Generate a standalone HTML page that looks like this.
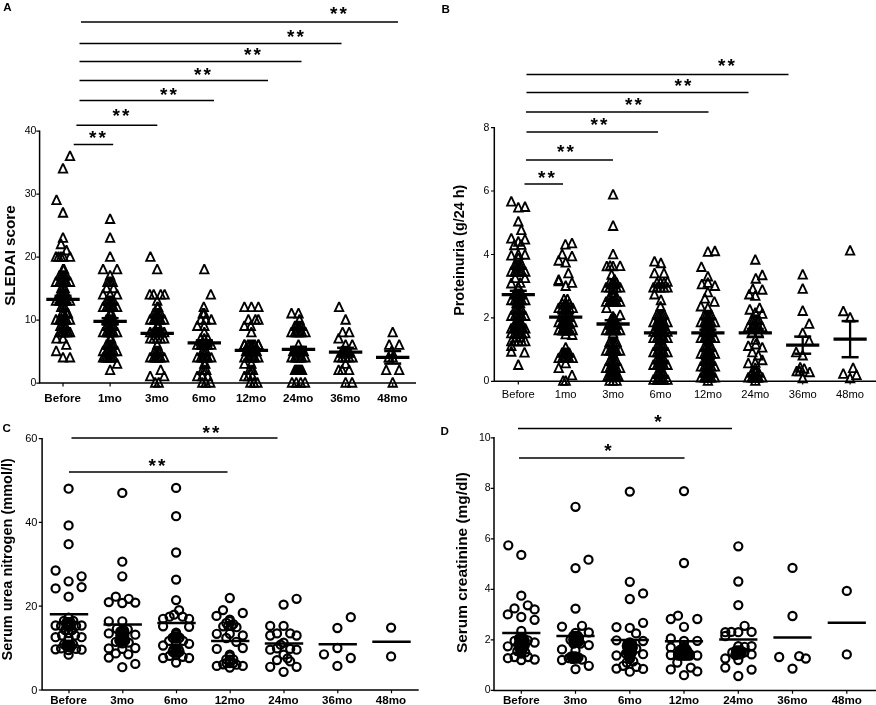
<!DOCTYPE html>
<html lang="en"><head><meta charset="utf-8"><title>Figure</title>
<style>html,body{margin:0;padding:0;background:#fff}svg{display:block}</style></head>
<body>
<svg width="876" height="705" viewBox="0 0 876 705">
<rect width="876" height="705" fill="#fff"/>
<g fill="none" stroke="#000" stroke-width="1.5">
<path d="M39.6 130.5V383.1H416"/>
<path d="M36.3 383.1H39.6M36.3 320.1H39.6M36.3 257.1H39.6M36.3 194.1H39.6M36.3 131.1H39.6M63.0 383.1v3.3M110.1 383.1v3.3M157.2 383.1v3.3M204.3 383.1v3.3M251.4 383.1v3.3M298.5 383.1v3.3M345.6 383.1v3.3M392.7 383.1v3.3" stroke-width="1.2"/>
<path d="M494.3 126.9V381.3H876"/>
<path d="M491.0 381.3H494.3M491.0 317.9H494.3M491.0 254.5H494.3M491.0 191.0H494.3M491.0 127.6H494.3M518.3 381.3v3.3M565.7 381.3v3.3M613.1 381.3v3.3M660.5 381.3v3.3M707.9 381.3v3.3M755.3 381.3v3.3M802.7 381.3v3.3M850.1 381.3v3.3" stroke-width="1.2"/>
<path d="M42.1 437.9V690.0H418.7"/>
<path d="M38.8 690.0H42.1M38.8 606.2H42.1M38.8 522.4H42.1M38.8 438.6H42.1M69.0 690.0v3.3M122.8 690.0v3.3M176.5 690.0v3.3M230.2 690.0v3.3M284.0 690.0v3.3M337.8 690.0v3.3M391.5 690.0v3.3" stroke-width="1.2"/>
<path d="M494.0 437.1V690.4H876"/>
<path d="M490.7 690.4H494.0M490.7 639.9H494.0M490.7 589.4H494.0M490.7 538.9H494.0M490.7 488.4H494.0M490.7 437.9H494.0M521.3 690.4v3.3M575.5 690.4v3.3M629.8 690.4v3.3M684.0 690.4v3.3M738.3 690.4v3.3M792.5 690.4v3.3M846.8 690.4v3.3" stroke-width="1.2"/>
</g>
<g fill="none" stroke="#000" stroke-width="1.5">
<path d="M81 22H398"/>
<path d="M79.5 43.5H341.5"/>
<path d="M79.5 61.5H301.5"/>
<path d="M79.5 80.5H268"/>
<path d="M79.5 100.5H214"/>
<path d="M76.4 125.3H157.3"/>
<path d="M73.7 144.5H113.2"/>
<path d="M526.5 74.5H788.5"/>
<path d="M526.5 92.5H748.5"/>
<path d="M526 112H708.5"/>
<path d="M526.5 132H658"/>
<path d="M526 160H613"/>
<path d="M524.5 184H563"/>
<path d="M71.5 438H277.5"/>
<path d="M69 472H227.5"/>
<path d="M518 428.5H732"/>
<path d="M519 458H684.5"/>
</g>
<g fill="none" stroke="#000" stroke-width="1.85" stroke-linejoin="miter" stroke-miterlimit="2.1">
<path d="M70.00 151.08L74.20 160.08H65.80Z"/>
<path d="M63.00 163.67L67.20 172.67H58.80Z"/>
<path d="M56.50 195.15L60.70 204.15H52.30Z"/>
<path d="M63.00 207.74L67.20 216.74H58.80Z"/>
<path d="M63.00 232.92L67.20 241.92H58.80Z"/>
<path d="M61.00 239.21L65.20 248.21H56.80Z"/>
<path d="M66.50 245.51L70.70 254.51H62.30Z"/>
<path d="M56.00 251.80L60.20 260.80H51.80Z"/>
<path d="M58.50 251.80L62.70 260.80H54.30Z"/>
<path d="M61.00 251.80L65.20 260.80H56.80Z"/>
<path d="M63.50 251.80L67.70 260.80H59.30Z"/>
<path d="M70.00 251.80L74.20 260.80H65.80Z"/>
<path d="M63.00 264.39L67.20 273.39H58.80Z"/>
<path d="M64.00 264.39L68.20 273.39H59.80Z"/>
<path d="M59.50 270.69L63.70 279.69H55.30Z"/>
<path d="M61.25 270.69L65.45 279.69H57.05Z"/>
<path d="M63.00 270.69L67.20 279.69H58.80Z"/>
<path d="M64.75 270.69L68.95 279.69H60.55Z"/>
<path d="M66.50 270.69L70.70 279.69H62.30Z"/>
<path d="M56.00 276.98L60.20 285.98H51.80Z"/>
<path d="M59.50 276.98L63.70 285.98H55.30Z"/>
<path d="M61.25 276.98L65.45 285.98H57.05Z"/>
<path d="M63.00 276.98L67.20 285.98H58.80Z"/>
<path d="M64.75 276.98L68.95 285.98H60.55Z"/>
<path d="M66.50 276.98L70.70 285.98H62.30Z"/>
<path d="M70.00 276.98L74.20 285.98H65.80Z"/>
<path d="M61.25 283.27L65.45 292.27H57.05Z"/>
<path d="M63.00 283.27L67.20 292.27H58.80Z"/>
<path d="M64.75 283.27L68.95 292.27H60.55Z"/>
<path d="M59.50 289.57L63.70 298.57H55.30Z"/>
<path d="M61.25 289.57L65.45 298.57H57.05Z"/>
<path d="M63.00 289.57L67.20 298.57H58.80Z"/>
<path d="M64.75 289.57L68.95 298.57H60.55Z"/>
<path d="M66.50 289.57L70.70 298.57H62.30Z"/>
<path d="M56.00 295.87L60.20 304.87H51.80Z"/>
<path d="M59.50 295.87L63.70 304.87H55.30Z"/>
<path d="M61.25 295.87L65.45 304.87H57.05Z"/>
<path d="M63.00 295.87L67.20 304.87H58.80Z"/>
<path d="M64.75 295.87L68.95 304.87H60.55Z"/>
<path d="M66.50 295.87L70.70 304.87H62.30Z"/>
<path d="M70.00 295.87L74.20 304.87H65.80Z"/>
<path d="M61.25 302.16L65.45 311.16H57.05Z"/>
<path d="M63.00 302.16L67.20 311.16H58.80Z"/>
<path d="M64.75 302.16L68.95 311.16H60.55Z"/>
<path d="M62.00 308.45L66.20 317.45H57.80Z"/>
<path d="M64.00 308.45L68.20 317.45H59.80Z"/>
<path d="M66.50 308.45L70.70 317.45H62.30Z"/>
<path d="M68.00 308.45L72.20 317.45H63.80Z"/>
<path d="M56.00 314.75L60.20 323.75H51.80Z"/>
<path d="M59.50 314.75L63.70 323.75H55.30Z"/>
<path d="M61.25 314.75L65.45 323.75H57.05Z"/>
<path d="M63.00 314.75L67.20 323.75H58.80Z"/>
<path d="M64.75 314.75L68.95 323.75H60.55Z"/>
<path d="M66.50 314.75L70.70 323.75H62.30Z"/>
<path d="M70.00 314.75L74.20 323.75H65.80Z"/>
<path d="M60.38 321.04L64.58 330.04H56.17Z"/>
<path d="M62.12 321.04L66.33 330.04H57.92Z"/>
<path d="M63.88 321.04L68.08 330.04H59.67Z"/>
<path d="M65.62 321.04L69.83 330.04H61.42Z"/>
<path d="M59.50 327.34L63.70 336.34H55.30Z"/>
<path d="M61.30 327.34L65.50 336.34H57.10Z"/>
<path d="M63.00 327.34L67.20 336.34H58.80Z"/>
<path d="M64.70 327.34L68.90 336.34H60.50Z"/>
<path d="M66.50 327.34L70.70 336.34H62.30Z"/>
<path d="M68.20 327.34L72.40 336.34H64.00Z"/>
<path d="M70.00 327.34L74.20 336.34H65.80Z"/>
<path d="M56.50 333.63L60.70 342.63H52.30Z"/>
<path d="M63.00 333.63L67.20 342.63H58.80Z"/>
<path d="M66.30 339.93L70.50 348.93H62.10Z"/>
<path d="M56.20 346.22L60.40 355.22H52.00Z"/>
<path d="M63.00 352.52L67.20 361.52H58.80Z"/>
<path d="M70.00 352.52L74.20 361.52H65.80Z"/>
<path d="M110.10 214.03L114.30 223.03H105.90Z"/>
<path d="M110.10 232.92L114.30 241.92H105.90Z"/>
<path d="M110.10 251.80L114.30 260.80H105.90Z"/>
<path d="M103.10 264.39L107.30 273.39H98.90Z"/>
<path d="M117.10 264.39L121.30 273.39H112.90Z"/>
<path d="M110.10 270.69L114.30 279.69H105.90Z"/>
<path d="M107.47 276.98L111.67 285.98H103.27Z"/>
<path d="M109.22 276.98L113.42 285.98H105.02Z"/>
<path d="M110.97 276.98L115.17 285.98H106.77Z"/>
<path d="M112.72 276.98L116.92 285.98H108.52Z"/>
<path d="M106.60 283.27L110.80 292.27H102.40Z"/>
<path d="M113.60 283.27L117.80 292.27H109.40Z"/>
<path d="M103.10 289.57L107.30 298.57H98.90Z"/>
<path d="M110.10 289.57L114.30 298.57H105.90Z"/>
<path d="M117.10 289.57L121.30 298.57H112.90Z"/>
<path d="M106.60 295.87L110.80 304.87H102.40Z"/>
<path d="M108.35 295.87L112.55 304.87H104.15Z"/>
<path d="M110.10 295.87L114.30 304.87H105.90Z"/>
<path d="M111.85 295.87L116.05 304.87H107.65Z"/>
<path d="M113.60 295.87L117.80 304.87H109.40Z"/>
<path d="M103.10 302.16L107.30 311.16H98.90Z"/>
<path d="M106.60 302.16L110.80 311.16H102.40Z"/>
<path d="M108.35 302.16L112.55 311.16H104.15Z"/>
<path d="M110.10 302.16L114.30 311.16H105.90Z"/>
<path d="M111.85 302.16L116.05 311.16H107.65Z"/>
<path d="M113.60 302.16L117.80 311.16H109.40Z"/>
<path d="M117.10 302.16L121.30 311.16H112.90Z"/>
<path d="M110.10 308.45L114.30 317.45H105.90Z"/>
<path d="M111.60 308.45L115.80 317.45H107.40Z"/>
<path d="M106.60 314.75L110.80 323.75H102.40Z"/>
<path d="M108.35 314.75L112.55 323.75H104.15Z"/>
<path d="M110.10 314.75L114.30 323.75H105.90Z"/>
<path d="M111.85 314.75L116.05 323.75H107.65Z"/>
<path d="M113.60 314.75L117.80 323.75H109.40Z"/>
<path d="M106.60 321.04L110.80 330.04H102.40Z"/>
<path d="M108.35 321.04L112.55 330.04H104.15Z"/>
<path d="M110.10 321.04L114.30 330.04H105.90Z"/>
<path d="M111.85 321.04L116.05 330.04H107.65Z"/>
<path d="M113.60 321.04L117.80 330.04H109.40Z"/>
<path d="M103.10 327.34L107.30 336.34H98.90Z"/>
<path d="M106.60 327.34L110.80 336.34H102.40Z"/>
<path d="M108.35 327.34L112.55 336.34H104.15Z"/>
<path d="M110.10 327.34L114.30 336.34H105.90Z"/>
<path d="M111.85 327.34L116.05 336.34H107.65Z"/>
<path d="M113.60 327.34L117.80 336.34H109.40Z"/>
<path d="M117.10 327.34L121.30 336.34H112.90Z"/>
<path d="M110.10 333.63L114.30 342.63H105.90Z"/>
<path d="M111.10 333.63L115.30 342.63H106.90Z"/>
<path d="M106.60 339.93L110.80 348.93H102.40Z"/>
<path d="M108.35 339.93L112.55 348.93H104.15Z"/>
<path d="M110.10 339.93L114.30 348.93H105.90Z"/>
<path d="M111.85 339.93L116.05 348.93H107.65Z"/>
<path d="M113.60 339.93L117.80 348.93H109.40Z"/>
<path d="M103.10 346.22L107.30 355.22H98.90Z"/>
<path d="M106.60 346.22L110.80 355.22H102.40Z"/>
<path d="M108.35 346.22L112.55 355.22H104.15Z"/>
<path d="M110.10 346.22L114.30 355.22H105.90Z"/>
<path d="M111.85 346.22L116.05 355.22H107.65Z"/>
<path d="M113.60 346.22L117.80 355.22H109.40Z"/>
<path d="M117.10 346.22L121.30 355.22H112.90Z"/>
<path d="M103.10 352.52L107.30 361.52H98.90Z"/>
<path d="M104.90 352.52L109.10 361.52H100.70Z"/>
<path d="M106.60 352.52L110.80 361.52H102.40Z"/>
<path d="M108.40 352.52L112.60 361.52H104.20Z"/>
<path d="M110.10 352.52L114.30 361.52H105.90Z"/>
<path d="M111.80 352.52L116.00 361.52H107.60Z"/>
<path d="M113.60 352.52L117.80 361.52H109.40Z"/>
<path d="M117.10 358.81L121.30 367.81H112.90Z"/>
<path d="M110.10 365.11L114.30 374.11H105.90Z"/>
<path d="M150.40 251.80L154.60 260.80H146.20Z"/>
<path d="M157.20 264.39L161.40 273.39H153.00Z"/>
<path d="M149.80 289.57L154.00 298.57H145.60Z"/>
<path d="M153.70 289.57L157.90 298.57H149.50Z"/>
<path d="M160.70 289.57L164.90 298.57H156.50Z"/>
<path d="M164.60 289.57L168.80 298.57H160.40Z"/>
<path d="M157.20 295.87L161.40 304.87H153.00Z"/>
<path d="M157.20 302.16L161.40 311.16H153.00Z"/>
<path d="M158.20 302.16L162.40 311.16H154.00Z"/>
<path d="M153.70 308.45L157.90 317.45H149.50Z"/>
<path d="M155.45 308.45L159.65 317.45H151.25Z"/>
<path d="M157.20 308.45L161.40 317.45H153.00Z"/>
<path d="M158.95 308.45L163.15 317.45H154.75Z"/>
<path d="M160.70 308.45L164.90 317.45H156.50Z"/>
<path d="M150.20 314.75L154.40 323.75H146.00Z"/>
<path d="M153.70 314.75L157.90 323.75H149.50Z"/>
<path d="M155.45 314.75L159.65 323.75H151.25Z"/>
<path d="M157.20 314.75L161.40 323.75H153.00Z"/>
<path d="M158.95 314.75L163.15 323.75H154.75Z"/>
<path d="M160.70 314.75L164.90 323.75H156.50Z"/>
<path d="M164.20 314.75L168.40 323.75H160.00Z"/>
<path d="M157.20 321.04L161.40 330.04H153.00Z"/>
<path d="M158.70 321.04L162.90 330.04H154.50Z"/>
<path d="M150.20 327.34L154.40 336.34H146.00Z"/>
<path d="M153.70 327.34L157.90 336.34H149.50Z"/>
<path d="M155.45 327.34L159.65 336.34H151.25Z"/>
<path d="M157.20 327.34L161.40 336.34H153.00Z"/>
<path d="M158.95 327.34L163.15 336.34H154.75Z"/>
<path d="M160.70 327.34L164.90 336.34H156.50Z"/>
<path d="M164.20 327.34L168.40 336.34H160.00Z"/>
<path d="M150.20 333.63L154.40 342.63H146.00Z"/>
<path d="M153.70 333.63L157.90 342.63H149.50Z"/>
<path d="M157.20 333.63L161.40 342.63H153.00Z"/>
<path d="M160.70 333.63L164.90 342.63H156.50Z"/>
<path d="M164.20 333.63L168.40 342.63H160.00Z"/>
<path d="M157.20 339.93L161.40 348.93H153.00Z"/>
<path d="M154.57 346.22L158.77 355.22H150.38Z"/>
<path d="M156.32 346.22L160.52 355.22H152.12Z"/>
<path d="M158.07 346.22L162.27 355.22H153.88Z"/>
<path d="M159.82 346.22L164.02 355.22H155.62Z"/>
<path d="M150.20 352.52L154.40 361.52H146.00Z"/>
<path d="M153.70 352.52L157.90 361.52H149.50Z"/>
<path d="M155.45 352.52L159.65 361.52H151.25Z"/>
<path d="M157.20 352.52L161.40 361.52H153.00Z"/>
<path d="M158.95 352.52L163.15 361.52H154.75Z"/>
<path d="M160.70 352.52L164.90 361.52H156.50Z"/>
<path d="M164.20 352.52L168.40 361.52H160.00Z"/>
<path d="M160.70 365.11L164.90 374.11H156.50Z"/>
<path d="M150.20 371.40L154.40 380.40H146.00Z"/>
<path d="M164.20 371.40L168.40 380.40H160.00Z"/>
<path d="M155.20 377.70L159.40 386.70H151.00Z"/>
<path d="M158.70 377.70L162.90 386.70H154.50Z"/>
<path d="M204.30 264.39L208.50 273.39H200.10Z"/>
<path d="M210.80 289.57L215.00 298.57H206.60Z"/>
<path d="M203.80 302.16L208.00 311.16H199.60Z"/>
<path d="M202.80 308.45L207.00 317.45H198.60Z"/>
<path d="M204.30 308.45L208.50 317.45H200.10Z"/>
<path d="M200.80 314.75L205.00 323.75H196.60Z"/>
<path d="M205.80 314.75L210.00 323.75H201.60Z"/>
<path d="M211.30 314.75L215.50 323.75H207.10Z"/>
<path d="M197.30 321.04L201.50 330.04H193.10Z"/>
<path d="M204.30 321.04L208.50 330.04H200.10Z"/>
<path d="M204.30 327.34L208.50 336.34H200.10Z"/>
<path d="M200.80 333.63L205.00 342.63H196.60Z"/>
<path d="M204.30 333.63L208.50 342.63H200.10Z"/>
<path d="M207.80 333.63L212.00 342.63H203.60Z"/>
<path d="M197.30 339.93L201.50 348.93H193.10Z"/>
<path d="M200.80 339.93L205.00 348.93H196.60Z"/>
<path d="M202.55 339.93L206.75 348.93H198.35Z"/>
<path d="M204.30 339.93L208.50 348.93H200.10Z"/>
<path d="M206.05 339.93L210.25 348.93H201.85Z"/>
<path d="M207.80 339.93L212.00 348.93H203.60Z"/>
<path d="M211.30 339.93L215.50 348.93H207.10Z"/>
<path d="M202.55 346.22L206.75 355.22H198.35Z"/>
<path d="M204.30 346.22L208.50 355.22H200.10Z"/>
<path d="M206.05 346.22L210.25 355.22H201.85Z"/>
<path d="M197.30 352.52L201.50 361.52H193.10Z"/>
<path d="M200.80 352.52L205.00 361.52H196.60Z"/>
<path d="M202.55 352.52L206.75 361.52H198.35Z"/>
<path d="M204.30 352.52L208.50 361.52H200.10Z"/>
<path d="M206.05 352.52L210.25 361.52H201.85Z"/>
<path d="M207.80 352.52L212.00 361.52H203.60Z"/>
<path d="M211.30 352.52L215.50 361.52H207.10Z"/>
<path d="M204.30 358.81L208.50 367.81H200.10Z"/>
<path d="M205.30 358.81L209.50 367.81H201.10Z"/>
<path d="M202.30 365.11L206.50 374.11H198.10Z"/>
<path d="M204.30 365.11L208.50 374.11H200.10Z"/>
<path d="M206.30 365.11L210.50 374.11H202.10Z"/>
<path d="M197.30 371.40L201.50 380.40H193.10Z"/>
<path d="M202.30 371.40L206.50 380.40H198.10Z"/>
<path d="M207.80 371.40L212.00 380.40H203.60Z"/>
<path d="M202.30 377.70L206.50 386.70H198.10Z"/>
<path d="M205.80 377.70L210.00 386.70H201.60Z"/>
<path d="M210.30 377.70L214.50 386.70H206.10Z"/>
<path d="M244.40 302.16L248.60 311.16H240.20Z"/>
<path d="M251.40 302.16L255.60 311.16H247.20Z"/>
<path d="M258.40 302.16L262.60 311.16H254.20Z"/>
<path d="M248.40 314.75L252.60 323.75H244.20Z"/>
<path d="M255.40 314.75L259.60 323.75H251.20Z"/>
<path d="M258.40 314.75L262.60 323.75H254.20Z"/>
<path d="M244.40 321.04L248.60 330.04H240.20Z"/>
<path d="M250.80 321.04L255.00 330.04H246.60Z"/>
<path d="M251.40 327.34L255.60 336.34H247.20Z"/>
<path d="M244.40 339.93L248.60 348.93H240.20Z"/>
<path d="M247.90 339.93L252.10 348.93H243.70Z"/>
<path d="M249.65 339.93L253.85 348.93H245.45Z"/>
<path d="M251.40 339.93L255.60 348.93H247.20Z"/>
<path d="M253.15 339.93L257.35 348.93H248.95Z"/>
<path d="M254.90 339.93L259.10 348.93H250.70Z"/>
<path d="M258.40 339.93L262.60 348.93H254.20Z"/>
<path d="M244.40 339.93L248.60 348.93H240.20Z"/>
<path d="M258.40 339.93L262.60 348.93H254.20Z"/>
<path d="M246.15 346.22L250.35 355.22H241.95Z"/>
<path d="M247.90 346.22L252.10 355.22H243.70Z"/>
<path d="M249.65 346.22L253.85 355.22H245.45Z"/>
<path d="M251.40 346.22L255.60 355.22H247.20Z"/>
<path d="M253.15 346.22L257.35 355.22H248.95Z"/>
<path d="M254.90 346.22L259.10 355.22H250.70Z"/>
<path d="M256.65 346.22L260.85 355.22H252.45Z"/>
<path d="M244.40 352.52L248.60 361.52H240.20Z"/>
<path d="M247.90 352.52L252.10 361.52H243.70Z"/>
<path d="M251.40 352.52L255.60 361.52H247.20Z"/>
<path d="M254.90 352.52L259.10 361.52H250.70Z"/>
<path d="M258.40 352.52L262.60 361.52H254.20Z"/>
<path d="M249.70 352.52L253.90 361.52H245.50Z"/>
<path d="M253.10 352.52L257.30 361.52H248.90Z"/>
<path d="M244.40 358.81L248.60 367.81H240.20Z"/>
<path d="M251.40 358.81L255.60 367.81H247.20Z"/>
<path d="M249.40 365.11L253.60 374.11H245.20Z"/>
<path d="M251.40 365.11L255.60 374.11H247.20Z"/>
<path d="M252.90 365.11L257.10 374.11H248.70Z"/>
<path d="M244.40 371.40L248.60 380.40H240.20Z"/>
<path d="M248.40 371.40L252.60 380.40H244.20Z"/>
<path d="M252.40 371.40L256.60 380.40H248.20Z"/>
<path d="M250.40 377.70L254.60 386.70H246.20Z"/>
<path d="M253.90 377.70L258.10 386.70H249.70Z"/>
<path d="M257.40 377.70L261.60 386.70H253.20Z"/>
<path d="M291.50 308.45L295.70 317.45H287.30Z"/>
<path d="M298.50 308.45L302.70 317.45H294.30Z"/>
<path d="M299.50 314.75L303.70 323.75H295.30Z"/>
<path d="M295.00 321.04L299.20 330.04H290.80Z"/>
<path d="M296.75 321.04L300.95 330.04H292.55Z"/>
<path d="M298.50 321.04L302.70 330.04H294.30Z"/>
<path d="M300.25 321.04L304.45 330.04H296.05Z"/>
<path d="M302.00 321.04L306.20 330.04H297.80Z"/>
<path d="M291.50 327.34L295.70 336.34H287.30Z"/>
<path d="M295.00 327.34L299.20 336.34H290.80Z"/>
<path d="M296.75 327.34L300.95 336.34H292.55Z"/>
<path d="M298.50 327.34L302.70 336.34H294.30Z"/>
<path d="M300.25 327.34L304.45 336.34H296.05Z"/>
<path d="M302.00 327.34L306.20 336.34H297.80Z"/>
<path d="M305.50 327.34L309.70 336.34H301.30Z"/>
<path d="M298.50 339.93L302.70 348.93H294.30Z"/>
<path d="M293.25 346.22L297.45 355.22H289.05Z"/>
<path d="M295.00 346.22L299.20 355.22H290.80Z"/>
<path d="M296.75 346.22L300.95 355.22H292.55Z"/>
<path d="M298.50 346.22L302.70 355.22H294.30Z"/>
<path d="M300.25 346.22L304.45 355.22H296.05Z"/>
<path d="M302.00 346.22L306.20 355.22H297.80Z"/>
<path d="M303.75 346.22L307.95 355.22H299.55Z"/>
<path d="M291.50 352.52L295.70 361.52H287.30Z"/>
<path d="M295.00 352.52L299.20 361.52H290.80Z"/>
<path d="M296.75 352.52L300.95 361.52H292.55Z"/>
<path d="M298.50 352.52L302.70 361.52H294.30Z"/>
<path d="M300.25 352.52L304.45 361.52H296.05Z"/>
<path d="M302.00 352.52L306.20 361.52H297.80Z"/>
<path d="M305.50 352.52L309.70 361.52H301.30Z"/>
<path d="M295.00 365.11L299.20 374.11H290.80Z"/>
<path d="M296.00 365.11L300.20 374.11H291.80Z"/>
<path d="M297.00 365.11L301.20 374.11H292.80Z"/>
<path d="M298.00 365.11L302.20 374.11H293.80Z"/>
<path d="M299.00 365.11L303.20 374.11H294.80Z"/>
<path d="M300.00 365.11L304.20 374.11H295.80Z"/>
<path d="M301.00 365.11L305.20 374.11H296.80Z"/>
<path d="M302.00 365.11L306.20 374.11H297.80Z"/>
<path d="M292.00 377.70L296.20 386.70H287.80Z"/>
<path d="M296.30 377.70L300.50 386.70H292.10Z"/>
<path d="M300.70 377.70L304.90 386.70H296.50Z"/>
<path d="M305.00 377.70L309.20 386.70H300.80Z"/>
<path d="M339.10 302.16L343.30 311.16H334.90Z"/>
<path d="M345.60 314.75L349.80 323.75H341.40Z"/>
<path d="M342.60 327.34L346.80 336.34H338.40Z"/>
<path d="M349.20 327.34L353.40 336.34H345.00Z"/>
<path d="M338.60 333.63L342.80 342.63H334.40Z"/>
<path d="M345.60 339.93L349.80 348.93H341.40Z"/>
<path d="M352.30 339.93L356.50 348.93H348.10Z"/>
<path d="M342.10 346.22L346.30 355.22H337.90Z"/>
<path d="M343.85 346.22L348.05 355.22H339.65Z"/>
<path d="M345.60 346.22L349.80 355.22H341.40Z"/>
<path d="M347.35 346.22L351.55 355.22H343.15Z"/>
<path d="M349.10 346.22L353.30 355.22H344.90Z"/>
<path d="M338.60 352.52L342.80 361.52H334.40Z"/>
<path d="M342.10 352.52L346.30 361.52H337.90Z"/>
<path d="M345.60 352.52L349.80 361.52H341.40Z"/>
<path d="M349.10 352.52L353.30 361.52H344.90Z"/>
<path d="M352.60 352.52L356.80 361.52H348.40Z"/>
<path d="M345.60 358.81L349.80 367.81H341.40Z"/>
<path d="M338.60 365.11L342.80 374.11H334.40Z"/>
<path d="M342.10 365.11L346.30 374.11H337.90Z"/>
<path d="M349.10 365.11L353.30 374.11H344.90Z"/>
<path d="M345.60 377.70L349.80 386.70H341.40Z"/>
<path d="M352.10 377.70L356.30 386.70H347.90Z"/>
<path d="M392.70 327.34L396.90 336.34H388.50Z"/>
<path d="M389.20 339.93L393.40 348.93H385.00Z"/>
<path d="M399.20 339.93L403.40 348.93H395.00Z"/>
<path d="M391.70 346.22L395.90 355.22H387.50Z"/>
<path d="M392.70 352.52L396.90 361.52H388.50Z"/>
<path d="M388.70 352.52L392.90 361.52H384.50Z"/>
<path d="M386.20 365.11L390.40 374.11H382.00Z"/>
<path d="M399.20 365.11L403.40 374.11H395.00Z"/>
<path d="M392.70 377.70L396.90 386.70H388.50Z"/>
<path d="M511.30 196.63L515.50 205.63H507.10Z"/>
<path d="M518.30 202.63L522.50 211.63H514.10Z"/>
<path d="M525.00 202.00L529.20 211.00H520.80Z"/>
<path d="M518.30 216.54L522.50 225.54H514.10Z"/>
<path d="M521.30 225.07L525.50 234.07H517.10Z"/>
<path d="M511.30 233.60L515.50 242.60H507.10Z"/>
<path d="M518.30 236.76L522.50 245.76H514.10Z"/>
<path d="M525.00 234.55L529.20 243.55H520.80Z"/>
<path d="M514.30 240.24L518.50 249.24H510.10Z"/>
<path d="M521.30 239.92L525.50 248.92H517.10Z"/>
<path d="M511.30 250.66L515.50 259.66H507.10Z"/>
<path d="M518.30 249.72L522.50 258.72H514.10Z"/>
<path d="M525.00 249.72L529.20 258.72H520.80Z"/>
<path d="M518.30 253.19L522.50 262.19H514.10Z"/>
<path d="M514.80 259.99L519.00 268.99H510.60Z"/>
<path d="M516.55 259.99L520.75 268.99H512.35Z"/>
<path d="M518.30 259.99L522.50 268.99H514.10Z"/>
<path d="M520.05 259.99L524.25 268.99H515.85Z"/>
<path d="M521.80 259.99L526.00 268.99H517.60Z"/>
<path d="M511.30 266.78L515.50 275.78H507.10Z"/>
<path d="M514.80 266.78L519.00 275.78H510.60Z"/>
<path d="M516.55 266.78L520.75 275.78H512.35Z"/>
<path d="M518.30 266.78L522.50 275.78H514.10Z"/>
<path d="M520.05 266.78L524.25 275.78H515.85Z"/>
<path d="M521.80 266.78L526.00 275.78H517.60Z"/>
<path d="M525.30 266.78L529.50 275.78H521.10Z"/>
<path d="M515.30 273.10L519.50 282.10H511.10Z"/>
<path d="M525.00 273.10L529.20 282.10H520.80Z"/>
<path d="M511.30 278.47L515.50 287.47H507.10Z"/>
<path d="M518.30 282.58L522.50 291.58H514.10Z"/>
<path d="M520.30 277.84L524.50 286.84H516.10Z"/>
<path d="M518.30 282.58L522.50 291.58H514.10Z"/>
<path d="M514.80 288.90L519.00 297.90H510.60Z"/>
<path d="M516.55 288.90L520.75 297.90H512.35Z"/>
<path d="M518.30 288.90L522.50 297.90H514.10Z"/>
<path d="M520.05 288.90L524.25 297.90H515.85Z"/>
<path d="M521.80 288.90L526.00 297.90H517.60Z"/>
<path d="M511.30 295.22L515.50 304.22H507.10Z"/>
<path d="M514.80 295.22L519.00 304.22H510.60Z"/>
<path d="M516.55 295.22L520.75 304.22H512.35Z"/>
<path d="M518.30 295.22L522.50 304.22H514.10Z"/>
<path d="M520.05 295.22L524.25 304.22H515.85Z"/>
<path d="M521.80 295.22L526.00 304.22H517.60Z"/>
<path d="M525.30 295.22L529.50 304.22H521.10Z"/>
<path d="M516.55 298.38L520.75 307.38H512.35Z"/>
<path d="M518.30 298.38L522.50 307.38H514.10Z"/>
<path d="M520.05 298.38L524.25 307.38H515.85Z"/>
<path d="M514.80 304.70L519.00 313.70H510.60Z"/>
<path d="M516.55 304.70L520.75 313.70H512.35Z"/>
<path d="M518.30 304.70L522.50 313.70H514.10Z"/>
<path d="M520.05 304.70L524.25 313.70H515.85Z"/>
<path d="M521.80 304.70L526.00 313.70H517.60Z"/>
<path d="M511.30 311.02L515.50 320.02H507.10Z"/>
<path d="M514.80 311.02L519.00 320.02H510.60Z"/>
<path d="M516.55 311.02L520.75 320.02H512.35Z"/>
<path d="M518.30 311.02L522.50 320.02H514.10Z"/>
<path d="M520.05 311.02L524.25 320.02H515.85Z"/>
<path d="M521.80 311.02L526.00 320.02H517.60Z"/>
<path d="M525.30 311.02L529.50 320.02H521.10Z"/>
<path d="M518.30 314.18L522.50 323.18H514.10Z"/>
<path d="M514.80 318.92L519.00 327.92H510.60Z"/>
<path d="M516.55 318.92L520.75 327.92H512.35Z"/>
<path d="M518.30 318.92L522.50 327.92H514.10Z"/>
<path d="M520.05 318.92L524.25 327.92H515.85Z"/>
<path d="M521.80 318.92L526.00 327.92H517.60Z"/>
<path d="M511.30 323.66L515.50 332.66H507.10Z"/>
<path d="M514.80 323.66L519.00 332.66H510.60Z"/>
<path d="M516.55 323.66L520.75 332.66H512.35Z"/>
<path d="M518.30 323.66L522.50 332.66H514.10Z"/>
<path d="M520.05 323.66L524.25 332.66H515.85Z"/>
<path d="M521.80 323.66L526.00 332.66H517.60Z"/>
<path d="M525.30 323.66L529.50 332.66H521.10Z"/>
<path d="M511.30 328.40L515.50 337.40H507.10Z"/>
<path d="M514.80 328.40L519.00 337.40H510.60Z"/>
<path d="M516.55 328.40L520.75 337.40H512.35Z"/>
<path d="M518.30 328.40L522.50 337.40H514.10Z"/>
<path d="M520.05 328.40L524.25 337.40H515.85Z"/>
<path d="M521.80 328.40L526.00 337.40H517.60Z"/>
<path d="M525.30 328.40L529.50 337.40H521.10Z"/>
<path d="M511.30 336.30L515.50 345.30H507.10Z"/>
<path d="M514.80 336.30L519.00 345.30H510.60Z"/>
<path d="M518.30 336.30L522.50 345.30H514.10Z"/>
<path d="M521.80 336.30L526.00 345.30H517.60Z"/>
<path d="M525.30 336.30L529.50 345.30H521.10Z"/>
<path d="M516.30 332.19L520.50 341.19H512.10Z"/>
<path d="M520.30 332.19L524.50 341.19H516.10Z"/>
<path d="M511.30 341.04L515.50 350.04H507.10Z"/>
<path d="M511.30 346.73L515.50 355.73H507.10Z"/>
<path d="M524.50 347.68L528.70 356.68H520.30Z"/>
<path d="M518.30 360.00L522.50 369.00H514.10Z"/>
<path d="M565.40 239.60L569.60 248.60H561.20Z"/>
<path d="M572.00 238.34L576.20 247.34H567.80Z"/>
<path d="M562.20 249.40L566.40 258.40H558.00Z"/>
<path d="M572.00 251.30L576.20 260.30H567.80Z"/>
<path d="M558.70 255.72L562.90 264.72H554.50Z"/>
<path d="M565.70 257.62L569.90 266.62H561.50Z"/>
<path d="M568.40 268.36L572.60 277.36H564.20Z"/>
<path d="M558.70 275.00L562.90 284.00H554.50Z"/>
<path d="M572.00 277.84L576.20 286.84H567.80Z"/>
<path d="M565.70 281.00L569.90 290.00H561.50Z"/>
<path d="M558.70 276.26L562.90 285.26H554.50Z"/>
<path d="M563.95 294.27L568.15 303.27H559.75Z"/>
<path d="M567.45 294.27L571.65 303.27H563.25Z"/>
<path d="M562.20 298.70L566.40 307.70H558.00Z"/>
<path d="M565.70 298.70L569.90 307.70H561.50Z"/>
<path d="M569.20 298.70L573.40 307.70H565.00Z"/>
<path d="M558.70 303.12L562.90 312.12H554.50Z"/>
<path d="M562.20 303.12L566.40 312.12H558.00Z"/>
<path d="M565.70 303.12L569.90 312.12H561.50Z"/>
<path d="M569.20 303.12L573.40 312.12H565.00Z"/>
<path d="M572.70 303.12L576.90 312.12H568.50Z"/>
<path d="M565.70 299.96L569.90 308.96H561.50Z"/>
<path d="M562.20 308.65L566.40 317.65H558.00Z"/>
<path d="M563.95 308.65L568.15 317.65H559.75Z"/>
<path d="M565.70 308.65L569.90 317.65H561.50Z"/>
<path d="M567.45 308.65L571.65 317.65H563.25Z"/>
<path d="M569.20 308.65L573.40 317.65H565.00Z"/>
<path d="M558.70 317.34L562.90 326.34H554.50Z"/>
<path d="M562.20 317.34L566.40 326.34H558.00Z"/>
<path d="M563.95 317.34L568.15 326.34H559.75Z"/>
<path d="M565.70 317.34L569.90 326.34H561.50Z"/>
<path d="M567.45 317.34L571.65 326.34H563.25Z"/>
<path d="M569.20 317.34L573.40 326.34H565.00Z"/>
<path d="M572.70 317.34L576.90 326.34H568.50Z"/>
<path d="M562.20 318.92L566.40 327.92H558.00Z"/>
<path d="M565.70 318.92L569.90 327.92H561.50Z"/>
<path d="M569.20 318.92L573.40 327.92H565.00Z"/>
<path d="M558.70 325.24L562.90 334.24H554.50Z"/>
<path d="M562.20 325.24L566.40 334.24H558.00Z"/>
<path d="M565.70 325.24L569.90 334.24H561.50Z"/>
<path d="M569.20 325.24L573.40 334.24H565.00Z"/>
<path d="M572.70 325.24L576.90 334.24H568.50Z"/>
<path d="M563.95 318.92L568.15 327.92H559.75Z"/>
<path d="M565.70 318.92L569.90 327.92H561.50Z"/>
<path d="M567.45 318.92L571.65 327.92H563.25Z"/>
<path d="M562.20 325.24L566.40 334.24H558.00Z"/>
<path d="M563.95 325.24L568.15 334.24H559.75Z"/>
<path d="M565.70 325.24L569.90 334.24H561.50Z"/>
<path d="M567.45 325.24L571.65 334.24H563.25Z"/>
<path d="M569.20 325.24L573.40 334.24H565.00Z"/>
<path d="M565.70 329.35L569.90 338.35H561.50Z"/>
<path d="M572.20 329.98L576.40 338.98H568.00Z"/>
<path d="M565.70 342.62L569.90 351.62H561.50Z"/>
<path d="M562.20 347.83L566.40 356.83H558.00Z"/>
<path d="M563.95 347.83L568.15 356.83H559.75Z"/>
<path d="M565.70 347.83L569.90 356.83H561.50Z"/>
<path d="M567.45 347.83L571.65 356.83H563.25Z"/>
<path d="M569.20 347.83L573.40 356.83H565.00Z"/>
<path d="M558.70 353.05L562.90 362.05H554.50Z"/>
<path d="M562.20 353.05L566.40 362.05H558.00Z"/>
<path d="M563.95 353.05L568.15 362.05H559.75Z"/>
<path d="M565.70 353.05L569.90 362.05H561.50Z"/>
<path d="M567.45 353.05L571.65 362.05H563.25Z"/>
<path d="M569.20 353.05L573.40 362.05H565.00Z"/>
<path d="M572.70 353.05L576.90 362.05H568.50Z"/>
<path d="M565.70 358.42L569.90 367.42H561.50Z"/>
<path d="M558.70 363.16L562.90 372.16H554.50Z"/>
<path d="M572.00 370.43L576.20 379.43H567.80Z"/>
<path d="M565.70 375.80L569.90 384.80H561.50Z"/>
<path d="M563.20 375.80L567.40 384.80H559.00Z"/>
<path d="M613.10 189.68L617.30 198.68H608.90Z"/>
<path d="M613.10 220.96L617.30 229.96H608.90Z"/>
<path d="M613.10 249.40L617.30 258.40H608.90Z"/>
<path d="M606.80 261.41L611.00 270.41H602.60Z"/>
<path d="M610.10 260.78L614.30 269.78H605.90Z"/>
<path d="M613.10 261.41L617.30 270.41H608.90Z"/>
<path d="M620.10 261.09L624.30 270.09H615.90Z"/>
<path d="M611.60 269.94L615.80 278.94H607.40Z"/>
<path d="M614.60 274.68L618.80 283.68H610.40Z"/>
<path d="M609.60 277.84L613.80 286.84H605.40Z"/>
<path d="M613.10 277.84L617.30 286.84H608.90Z"/>
<path d="M616.60 277.84L620.80 286.84H612.40Z"/>
<path d="M606.10 282.58L610.30 291.58H601.90Z"/>
<path d="M609.60 282.58L613.80 291.58H605.40Z"/>
<path d="M613.10 282.58L617.30 291.58H608.90Z"/>
<path d="M616.60 282.58L620.80 291.58H612.40Z"/>
<path d="M620.10 282.58L624.30 291.58H615.90Z"/>
<path d="M611.35 279.42L615.55 288.42H607.15Z"/>
<path d="M613.10 279.42L617.30 288.42H608.90Z"/>
<path d="M614.85 279.42L619.05 288.42H610.65Z"/>
<path d="M613.10 287.32L617.30 296.32H608.90Z"/>
<path d="M609.60 292.06L613.80 301.06H605.40Z"/>
<path d="M613.10 292.06L617.30 301.06H608.90Z"/>
<path d="M616.60 292.06L620.80 301.06H612.40Z"/>
<path d="M606.10 296.80L610.30 305.80H601.90Z"/>
<path d="M609.60 296.80L613.80 305.80H605.40Z"/>
<path d="M613.10 296.80L617.30 305.80H608.90Z"/>
<path d="M616.60 296.80L620.80 305.80H612.40Z"/>
<path d="M620.10 296.80L624.30 305.80H615.90Z"/>
<path d="M613.10 290.48L617.30 299.48H608.90Z"/>
<path d="M611.35 296.80L615.55 305.80H607.15Z"/>
<path d="M613.10 296.80L617.30 305.80H608.90Z"/>
<path d="M614.85 296.80L619.05 305.80H610.65Z"/>
<path d="M606.60 303.12L610.80 312.12H602.40Z"/>
<path d="M620.10 310.07L624.30 319.07H615.90Z"/>
<path d="M613.10 311.65L617.30 320.65H608.90Z"/>
<path d="M611.35 314.18L615.55 323.18H607.15Z"/>
<path d="M613.10 314.18L617.30 323.18H608.90Z"/>
<path d="M614.85 314.18L619.05 323.18H610.65Z"/>
<path d="M609.60 319.71L613.80 328.71H605.40Z"/>
<path d="M611.35 319.71L615.55 328.71H607.15Z"/>
<path d="M613.10 319.71L617.30 328.71H608.90Z"/>
<path d="M614.85 319.71L619.05 328.71H610.65Z"/>
<path d="M616.60 319.71L620.80 328.71H612.40Z"/>
<path d="M606.10 325.24L610.30 334.24H601.90Z"/>
<path d="M609.60 325.24L613.80 334.24H605.40Z"/>
<path d="M611.35 325.24L615.55 334.24H607.15Z"/>
<path d="M613.10 325.24L617.30 334.24H608.90Z"/>
<path d="M614.85 325.24L619.05 334.24H610.65Z"/>
<path d="M616.60 325.24L620.80 334.24H612.40Z"/>
<path d="M620.10 325.24L624.30 334.24H615.90Z"/>
<path d="M613.10 328.40L617.30 337.40H608.90Z"/>
<path d="M609.60 337.09L613.80 346.09H605.40Z"/>
<path d="M611.35 337.09L615.55 346.09H607.15Z"/>
<path d="M613.10 337.09L617.30 346.09H608.90Z"/>
<path d="M614.85 337.09L619.05 346.09H610.65Z"/>
<path d="M616.60 337.09L620.80 346.09H612.40Z"/>
<path d="M606.10 345.78L610.30 354.78H601.90Z"/>
<path d="M609.60 345.78L613.80 354.78H605.40Z"/>
<path d="M611.35 345.78L615.55 354.78H607.15Z"/>
<path d="M613.10 345.78L617.30 354.78H608.90Z"/>
<path d="M614.85 345.78L619.05 354.78H610.65Z"/>
<path d="M616.60 345.78L620.80 354.78H612.40Z"/>
<path d="M620.10 345.78L624.30 354.78H615.90Z"/>
<path d="M613.10 348.94L617.30 357.94H608.90Z"/>
<path d="M609.60 356.05L613.80 365.05H605.40Z"/>
<path d="M611.35 356.05L615.55 365.05H607.15Z"/>
<path d="M613.10 356.05L617.30 365.05H608.90Z"/>
<path d="M614.85 356.05L619.05 365.05H610.65Z"/>
<path d="M616.60 356.05L620.80 365.05H612.40Z"/>
<path d="M606.10 363.16L610.30 372.16H601.90Z"/>
<path d="M609.60 363.16L613.80 372.16H605.40Z"/>
<path d="M611.35 363.16L615.55 372.16H607.15Z"/>
<path d="M613.10 363.16L617.30 372.16H608.90Z"/>
<path d="M614.85 363.16L619.05 372.16H610.65Z"/>
<path d="M616.60 363.16L620.80 372.16H612.40Z"/>
<path d="M620.10 363.16L624.30 372.16H615.90Z"/>
<path d="M611.35 366.32L615.55 375.32H607.15Z"/>
<path d="M614.85 366.32L619.05 375.32H610.65Z"/>
<path d="M607.85 371.06L612.05 380.06H603.65Z"/>
<path d="M611.35 371.06L615.55 380.06H607.15Z"/>
<path d="M614.85 371.06L619.05 380.06H610.65Z"/>
<path d="M618.35 371.06L622.55 380.06H614.15Z"/>
<path d="M609.60 375.80L613.80 384.80H605.40Z"/>
<path d="M613.10 375.80L617.30 384.80H608.90Z"/>
<path d="M616.60 375.80L620.80 384.80H612.40Z"/>
<path d="M611.35 366.32L615.55 375.32H607.15Z"/>
<path d="M613.10 366.32L617.30 375.32H608.90Z"/>
<path d="M614.85 366.32L619.05 375.32H610.65Z"/>
<path d="M609.60 371.06L613.80 380.06H605.40Z"/>
<path d="M611.35 371.06L615.55 380.06H607.15Z"/>
<path d="M613.10 371.06L617.30 380.06H608.90Z"/>
<path d="M614.85 371.06L619.05 380.06H610.65Z"/>
<path d="M616.60 371.06L620.80 380.06H612.40Z"/>
<path d="M654.50 256.67L658.70 265.67H650.30Z"/>
<path d="M660.90 258.25L665.10 267.25H656.70Z"/>
<path d="M654.50 268.36L658.70 277.36H650.30Z"/>
<path d="M664.00 268.36L668.20 277.36H659.80Z"/>
<path d="M667.50 276.89L671.70 285.89H663.30Z"/>
<path d="M657.00 277.84L661.20 286.84H652.80Z"/>
<path d="M660.50 277.84L664.70 286.84H656.30Z"/>
<path d="M664.00 277.84L668.20 286.84H659.80Z"/>
<path d="M653.50 282.58L657.70 291.58H649.30Z"/>
<path d="M657.00 282.58L661.20 291.58H652.80Z"/>
<path d="M660.50 282.58L664.70 291.58H656.30Z"/>
<path d="M664.00 282.58L668.20 291.58H659.80Z"/>
<path d="M667.50 282.58L671.70 291.58H663.30Z"/>
<path d="M654.50 289.53L658.70 298.53H650.30Z"/>
<path d="M661.00 295.22L665.20 304.22H656.80Z"/>
<path d="M660.50 301.54L664.70 310.54H656.30Z"/>
<path d="M657.00 309.44L661.20 318.44H652.80Z"/>
<path d="M658.75 309.44L662.95 318.44H654.55Z"/>
<path d="M660.50 309.44L664.70 318.44H656.30Z"/>
<path d="M662.25 309.44L666.45 318.44H658.05Z"/>
<path d="M664.00 309.44L668.20 318.44H659.80Z"/>
<path d="M653.50 317.34L657.70 326.34H649.30Z"/>
<path d="M657.00 317.34L661.20 326.34H652.80Z"/>
<path d="M658.75 317.34L662.95 326.34H654.55Z"/>
<path d="M660.50 317.34L664.70 326.34H656.30Z"/>
<path d="M662.25 317.34L666.45 326.34H658.05Z"/>
<path d="M664.00 317.34L668.20 326.34H659.80Z"/>
<path d="M667.50 317.34L671.70 326.34H663.30Z"/>
<path d="M657.00 320.50L661.20 329.50H652.80Z"/>
<path d="M658.75 320.50L662.95 329.50H654.55Z"/>
<path d="M660.50 320.50L664.70 329.50H656.30Z"/>
<path d="M662.25 320.50L666.45 329.50H658.05Z"/>
<path d="M664.00 320.50L668.20 329.50H659.80Z"/>
<path d="M653.50 326.82L657.70 335.82H649.30Z"/>
<path d="M657.00 326.82L661.20 335.82H652.80Z"/>
<path d="M658.75 326.82L662.95 335.82H654.55Z"/>
<path d="M660.50 326.82L664.70 335.82H656.30Z"/>
<path d="M662.25 326.82L666.45 335.82H658.05Z"/>
<path d="M664.00 326.82L668.20 335.82H659.80Z"/>
<path d="M667.50 326.82L671.70 335.82H663.30Z"/>
<path d="M653.50 333.14L657.70 342.14H649.30Z"/>
<path d="M657.00 333.14L661.20 342.14H652.80Z"/>
<path d="M658.75 333.14L662.95 342.14H654.55Z"/>
<path d="M660.50 333.14L664.70 342.14H656.30Z"/>
<path d="M662.25 333.14L666.45 342.14H658.05Z"/>
<path d="M664.00 333.14L668.20 342.14H659.80Z"/>
<path d="M667.50 333.14L671.70 342.14H663.30Z"/>
<path d="M660.50 334.72L664.70 343.72H656.30Z"/>
<path d="M657.00 341.04L661.20 350.04H652.80Z"/>
<path d="M658.75 341.04L662.95 350.04H654.55Z"/>
<path d="M660.50 341.04L664.70 350.04H656.30Z"/>
<path d="M662.25 341.04L666.45 350.04H658.05Z"/>
<path d="M664.00 341.04L668.20 350.04H659.80Z"/>
<path d="M653.50 347.36L657.70 356.36H649.30Z"/>
<path d="M657.00 347.36L661.20 356.36H652.80Z"/>
<path d="M658.75 347.36L662.95 356.36H654.55Z"/>
<path d="M660.50 347.36L664.70 356.36H656.30Z"/>
<path d="M662.25 347.36L666.45 356.36H658.05Z"/>
<path d="M664.00 347.36L668.20 356.36H659.80Z"/>
<path d="M667.50 347.36L671.70 356.36H663.30Z"/>
<path d="M660.50 348.94L664.70 357.94H656.30Z"/>
<path d="M657.00 354.47L661.20 363.47H652.80Z"/>
<path d="M658.75 354.47L662.95 363.47H654.55Z"/>
<path d="M660.50 354.47L664.70 363.47H656.30Z"/>
<path d="M662.25 354.47L666.45 363.47H658.05Z"/>
<path d="M664.00 354.47L668.20 363.47H659.80Z"/>
<path d="M653.50 360.00L657.70 369.00H649.30Z"/>
<path d="M657.00 360.00L661.20 369.00H652.80Z"/>
<path d="M658.75 360.00L662.95 369.00H654.55Z"/>
<path d="M660.50 360.00L664.70 369.00H656.30Z"/>
<path d="M662.25 360.00L666.45 369.00H658.05Z"/>
<path d="M664.00 360.00L668.20 369.00H659.80Z"/>
<path d="M667.50 360.00L671.70 369.00H663.30Z"/>
<path d="M660.50 363.16L664.70 372.16H656.30Z"/>
<path d="M657.00 369.01L661.20 378.01H652.80Z"/>
<path d="M658.75 369.01L662.95 378.01H654.55Z"/>
<path d="M660.50 369.01L664.70 378.01H656.30Z"/>
<path d="M662.25 369.01L666.45 378.01H658.05Z"/>
<path d="M664.00 369.01L668.20 378.01H659.80Z"/>
<path d="M653.50 374.85L657.70 383.85H649.30Z"/>
<path d="M657.00 374.85L661.20 383.85H652.80Z"/>
<path d="M658.75 374.85L662.95 383.85H654.55Z"/>
<path d="M660.50 374.85L664.70 383.85H656.30Z"/>
<path d="M662.25 374.85L666.45 383.85H658.05Z"/>
<path d="M664.00 374.85L668.20 383.85H659.80Z"/>
<path d="M667.50 374.85L671.70 383.85H663.30Z"/>
<path d="M707.90 246.87L712.10 255.87H703.70Z"/>
<path d="M714.90 246.24L719.10 255.24H710.70Z"/>
<path d="M701.40 262.04L705.60 271.04H697.20Z"/>
<path d="M707.90 271.52L712.10 280.52H703.70Z"/>
<path d="M701.90 279.42L706.10 288.42H697.70Z"/>
<path d="M707.90 277.84L712.10 286.84H703.70Z"/>
<path d="M714.90 281.00L719.10 290.00H710.70Z"/>
<path d="M707.90 287.32L712.10 296.32H703.70Z"/>
<path d="M704.90 293.64L709.10 302.64H700.70Z"/>
<path d="M714.40 296.80L718.60 305.80H710.20Z"/>
<path d="M700.90 301.54L705.10 310.54H696.70Z"/>
<path d="M707.90 303.12L712.10 312.12H703.70Z"/>
<path d="M704.40 310.23L708.60 319.23H700.20Z"/>
<path d="M706.15 310.23L710.35 319.23H701.95Z"/>
<path d="M707.90 310.23L712.10 319.23H703.70Z"/>
<path d="M709.65 310.23L713.85 319.23H705.45Z"/>
<path d="M711.40 310.23L715.60 319.23H707.20Z"/>
<path d="M700.90 317.34L705.10 326.34H696.70Z"/>
<path d="M704.40 317.34L708.60 326.34H700.20Z"/>
<path d="M706.15 317.34L710.35 326.34H701.95Z"/>
<path d="M707.90 317.34L712.10 326.34H703.70Z"/>
<path d="M709.65 317.34L713.85 326.34H705.45Z"/>
<path d="M711.40 317.34L715.60 326.34H707.20Z"/>
<path d="M714.90 317.34L719.10 326.34H710.70Z"/>
<path d="M706.15 318.92L710.35 327.92H701.95Z"/>
<path d="M707.90 318.92L712.10 327.92H703.70Z"/>
<path d="M709.65 318.92L713.85 327.92H705.45Z"/>
<path d="M704.40 326.03L708.60 335.03H700.20Z"/>
<path d="M706.15 326.03L710.35 335.03H701.95Z"/>
<path d="M707.90 326.03L712.10 335.03H703.70Z"/>
<path d="M709.65 326.03L713.85 335.03H705.45Z"/>
<path d="M711.40 326.03L715.60 335.03H707.20Z"/>
<path d="M700.90 333.14L705.10 342.14H696.70Z"/>
<path d="M704.40 333.14L708.60 342.14H700.20Z"/>
<path d="M706.15 333.14L710.35 342.14H701.95Z"/>
<path d="M707.90 333.14L712.10 342.14H703.70Z"/>
<path d="M709.65 333.14L713.85 342.14H705.45Z"/>
<path d="M711.40 333.14L715.60 342.14H707.20Z"/>
<path d="M714.90 333.14L719.10 342.14H710.70Z"/>
<path d="M707.90 334.72L712.10 343.72H703.70Z"/>
<path d="M704.40 341.83L708.60 350.83H700.20Z"/>
<path d="M706.15 341.83L710.35 350.83H701.95Z"/>
<path d="M707.90 341.83L712.10 350.83H703.70Z"/>
<path d="M709.65 341.83L713.85 350.83H705.45Z"/>
<path d="M711.40 341.83L715.60 350.83H707.20Z"/>
<path d="M700.90 348.94L705.10 357.94H696.70Z"/>
<path d="M704.40 348.94L708.60 357.94H700.20Z"/>
<path d="M706.15 348.94L710.35 357.94H701.95Z"/>
<path d="M707.90 348.94L712.10 357.94H703.70Z"/>
<path d="M709.65 348.94L713.85 357.94H705.45Z"/>
<path d="M711.40 348.94L715.60 357.94H707.20Z"/>
<path d="M714.90 348.94L719.10 357.94H710.70Z"/>
<path d="M706.15 350.52L710.35 359.52H701.95Z"/>
<path d="M707.90 350.52L712.10 359.52H703.70Z"/>
<path d="M709.65 350.52L713.85 359.52H705.45Z"/>
<path d="M704.40 356.05L708.60 365.05H700.20Z"/>
<path d="M706.15 356.05L710.35 365.05H701.95Z"/>
<path d="M707.90 356.05L712.10 365.05H703.70Z"/>
<path d="M709.65 356.05L713.85 365.05H705.45Z"/>
<path d="M711.40 356.05L715.60 365.05H707.20Z"/>
<path d="M700.90 361.58L705.10 370.58H696.70Z"/>
<path d="M704.40 361.58L708.60 370.58H700.20Z"/>
<path d="M706.15 361.58L710.35 370.58H701.95Z"/>
<path d="M707.90 361.58L712.10 370.58H703.70Z"/>
<path d="M709.65 361.58L713.85 370.58H705.45Z"/>
<path d="M711.40 361.58L715.60 370.58H707.20Z"/>
<path d="M714.90 361.58L719.10 370.58H710.70Z"/>
<path d="M707.90 363.16L712.10 372.16H703.70Z"/>
<path d="M704.40 367.90L708.60 376.90H700.20Z"/>
<path d="M706.15 367.90L710.35 376.90H701.95Z"/>
<path d="M707.90 367.90L712.10 376.90H703.70Z"/>
<path d="M709.65 367.90L713.85 376.90H705.45Z"/>
<path d="M711.40 367.90L715.60 376.90H707.20Z"/>
<path d="M700.90 372.64L705.10 381.64H696.70Z"/>
<path d="M704.40 372.64L708.60 381.64H700.20Z"/>
<path d="M706.15 372.64L710.35 381.64H701.95Z"/>
<path d="M707.90 372.64L712.10 381.64H703.70Z"/>
<path d="M709.65 372.64L713.85 381.64H705.45Z"/>
<path d="M711.40 372.64L715.60 381.64H707.20Z"/>
<path d="M714.90 372.64L719.10 381.64H710.70Z"/>
<path d="M707.90 375.80L712.10 384.80H703.70Z"/>
<path d="M755.30 254.77L759.50 263.77H751.10Z"/>
<path d="M762.30 270.26L766.50 279.26H758.10Z"/>
<path d="M755.80 273.73L760.00 282.73H751.60Z"/>
<path d="M752.80 284.16L757.00 293.16H748.60Z"/>
<path d="M762.30 284.79L766.50 293.79H758.10Z"/>
<path d="M749.30 289.53L753.50 298.53H745.10Z"/>
<path d="M755.30 290.80L759.50 299.80H751.10Z"/>
<path d="M749.80 304.70L754.00 313.70H745.60Z"/>
<path d="M759.60 303.12L763.80 312.12H755.40Z"/>
<path d="M762.30 308.81L766.50 317.81H758.10Z"/>
<path d="M755.30 307.86L759.50 316.86H751.10Z"/>
<path d="M751.80 314.97L756.00 323.97H747.60Z"/>
<path d="M753.55 314.97L757.75 323.97H749.35Z"/>
<path d="M755.30 314.97L759.50 323.97H751.10Z"/>
<path d="M757.05 314.97L761.25 323.97H752.85Z"/>
<path d="M758.80 314.97L763.00 323.97H754.60Z"/>
<path d="M748.30 322.08L752.50 331.08H744.10Z"/>
<path d="M751.80 322.08L756.00 331.08H747.60Z"/>
<path d="M753.55 322.08L757.75 331.08H749.35Z"/>
<path d="M755.30 322.08L759.50 331.08H751.10Z"/>
<path d="M757.05 322.08L761.25 331.08H752.85Z"/>
<path d="M758.80 322.08L763.00 331.08H754.60Z"/>
<path d="M762.30 322.08L766.50 331.08H758.10Z"/>
<path d="M751.80 328.40L756.00 337.40H747.60Z"/>
<path d="M758.80 328.40L763.00 337.40H754.60Z"/>
<path d="M755.30 334.72L759.50 343.72H751.10Z"/>
<path d="M748.30 341.04L752.50 350.04H744.10Z"/>
<path d="M762.30 342.62L766.50 351.62H758.10Z"/>
<path d="M755.80 339.46L760.00 348.46H751.60Z"/>
<path d="M752.30 347.36L756.50 356.36H748.10Z"/>
<path d="M758.30 350.52L762.50 359.52H754.10Z"/>
<path d="M762.30 355.26L766.50 364.26H758.10Z"/>
<path d="M748.30 358.42L752.50 367.42H744.10Z"/>
<path d="M755.30 357.79L759.50 366.79H751.10Z"/>
<path d="M755.30 363.16L759.50 372.16H751.10Z"/>
<path d="M751.80 367.90L756.00 376.90H747.60Z"/>
<path d="M755.30 367.90L759.50 376.90H751.10Z"/>
<path d="M758.80 367.90L763.00 376.90H754.60Z"/>
<path d="M748.30 372.64L752.50 381.64H744.10Z"/>
<path d="M751.80 372.64L756.00 381.64H747.60Z"/>
<path d="M755.30 372.64L759.50 381.64H751.10Z"/>
<path d="M758.80 372.64L763.00 381.64H754.60Z"/>
<path d="M762.30 372.64L766.50 381.64H758.10Z"/>
<path d="M755.30 366.32L759.50 375.32H751.10Z"/>
<path d="M753.55 372.64L757.75 381.64H749.35Z"/>
<path d="M755.30 372.64L759.50 381.64H751.10Z"/>
<path d="M757.05 372.64L761.25 381.64H752.85Z"/>
<path d="M755.30 375.80L759.50 384.80H751.10Z"/>
<path d="M802.70 269.62L806.90 278.62H798.50Z"/>
<path d="M802.70 283.84L806.90 292.84H798.50Z"/>
<path d="M802.70 305.96L806.90 314.96H798.50Z"/>
<path d="M809.20 318.92L813.40 327.92H805.00Z"/>
<path d="M802.70 328.08L806.90 337.08H798.50Z"/>
<path d="M809.20 335.98L813.40 344.98H805.00Z"/>
<path d="M796.20 347.36L800.40 356.36H792.00Z"/>
<path d="M802.70 350.52L806.90 359.52H798.50Z"/>
<path d="M796.70 366.32L800.90 375.32H792.50Z"/>
<path d="M800.20 362.53L804.40 371.53H796.00Z"/>
<path d="M804.20 363.79L808.40 372.79H800.00Z"/>
<path d="M809.70 367.27L813.90 376.27H805.50Z"/>
<path d="M802.70 373.27L806.90 382.27H798.50Z"/>
<path d="M799.70 366.32L803.90 375.32H795.50Z"/>
<path d="M850.10 245.61L854.30 254.61H845.90Z"/>
<path d="M843.30 306.28L847.50 315.28H839.10Z"/>
<path d="M850.10 312.60L854.30 321.60H845.90Z"/>
<path d="M853.10 363.16L857.30 372.16H848.90Z"/>
<path d="M843.30 368.85L847.50 377.85H839.10Z"/>
<path d="M856.50 370.11L860.70 379.11H852.30Z"/>
<path d="M850.10 373.27L854.30 382.27H845.90Z"/>
</g>
<g fill="none" stroke="#000" stroke-width="2.2">
<circle cx="68.6" cy="488.7" r="4.05"/>
<circle cx="68.6" cy="525.4" r="4.05"/>
<circle cx="68.6" cy="544.2" r="4.05"/>
<circle cx="55.6" cy="570.5" r="4.05"/>
<circle cx="81.6" cy="576.3" r="4.05"/>
<circle cx="68.6" cy="581.3" r="4.05"/>
<circle cx="55.6" cy="588.4" r="4.05"/>
<circle cx="81.6" cy="587.1" r="4.05"/>
<circle cx="68.6" cy="596.7" r="4.05"/>
<circle cx="68.6" cy="617.6" r="4.05"/>
<circle cx="63.9" cy="620.9" r="4.05"/>
<circle cx="73.3" cy="620.9" r="4.05"/>
<circle cx="55.6" cy="625.5" r="4.05"/>
<circle cx="81.6" cy="625.5" r="4.05"/>
<circle cx="61.1" cy="625.9" r="4.05"/>
<circle cx="76.1" cy="625.9" r="4.05"/>
<circle cx="68.6" cy="624.2" r="4.05"/>
<circle cx="65.1" cy="630.1" r="4.05"/>
<circle cx="72.1" cy="630.1" r="4.05"/>
<circle cx="55.6" cy="637.2" r="4.05"/>
<circle cx="81.6" cy="637.2" r="4.05"/>
<circle cx="68.6" cy="638.0" r="4.05"/>
<circle cx="62.1" cy="635.5" r="4.05"/>
<circle cx="75.1" cy="635.5" r="4.05"/>
<circle cx="64.1" cy="644.3" r="4.05"/>
<circle cx="73.1" cy="644.3" r="4.05"/>
<circle cx="55.6" cy="649.3" r="4.05"/>
<circle cx="81.6" cy="649.7" r="4.05"/>
<circle cx="61.1" cy="648.4" r="4.05"/>
<circle cx="76.1" cy="648.9" r="4.05"/>
<circle cx="68.6" cy="646.8" r="4.05"/>
<circle cx="68.6" cy="654.7" r="4.05"/>
<circle cx="68.6" cy="633.0" r="4.05"/>
<circle cx="68.6" cy="626.8" r="4.05"/>
<circle cx="66.6" cy="623.4" r="4.05"/>
<circle cx="70.6" cy="625.1" r="4.05"/>
<circle cx="66.6" cy="646.3" r="4.05"/>
<circle cx="70.6" cy="647.6" r="4.05"/>
<circle cx="68.6" cy="650.1" r="4.05"/>
<circle cx="66.6" cy="622.2" r="4.05"/>
<circle cx="68.6" cy="622.2" r="4.05"/>
<circle cx="70.6" cy="622.2" r="4.05"/>
<circle cx="67.6" cy="624.1" r="4.05"/>
<circle cx="69.6" cy="624.1" r="4.05"/>
<circle cx="66.6" cy="626.1" r="4.05"/>
<circle cx="68.6" cy="626.1" r="4.05"/>
<circle cx="70.6" cy="626.1" r="4.05"/>
<circle cx="66.6" cy="644.7" r="4.05"/>
<circle cx="68.6" cy="644.7" r="4.05"/>
<circle cx="70.6" cy="644.7" r="4.05"/>
<circle cx="67.6" cy="646.6" r="4.05"/>
<circle cx="69.6" cy="646.6" r="4.05"/>
<circle cx="122.3" cy="492.9" r="4.05"/>
<circle cx="122.3" cy="561.7" r="4.05"/>
<circle cx="122.3" cy="576.3" r="4.05"/>
<circle cx="115.8" cy="596.7" r="4.05"/>
<circle cx="128.8" cy="598.8" r="4.05"/>
<circle cx="108.8" cy="602.1" r="4.05"/>
<circle cx="122.3" cy="603.0" r="4.05"/>
<circle cx="135.3" cy="602.6" r="4.05"/>
<circle cx="108.8" cy="621.3" r="4.05"/>
<circle cx="122.3" cy="621.3" r="4.05"/>
<circle cx="116.8" cy="628.8" r="4.05"/>
<circle cx="127.8" cy="629.3" r="4.05"/>
<circle cx="108.8" cy="633.4" r="4.05"/>
<circle cx="122.3" cy="631.3" r="4.05"/>
<circle cx="135.3" cy="634.7" r="4.05"/>
<circle cx="119.3" cy="640.5" r="4.05"/>
<circle cx="125.3" cy="640.5" r="4.05"/>
<circle cx="122.3" cy="637.2" r="4.05"/>
<circle cx="122.3" cy="643.4" r="4.05"/>
<circle cx="108.8" cy="648.4" r="4.05"/>
<circle cx="135.3" cy="648.0" r="4.05"/>
<circle cx="122.3" cy="648.9" r="4.05"/>
<circle cx="115.8" cy="653.4" r="4.05"/>
<circle cx="128.3" cy="654.3" r="4.05"/>
<circle cx="108.8" cy="657.6" r="4.05"/>
<circle cx="135.3" cy="663.9" r="4.05"/>
<circle cx="122.3" cy="667.2" r="4.05"/>
<circle cx="128.8" cy="642.6" r="4.05"/>
<circle cx="115.8" cy="641.8" r="4.05"/>
<circle cx="120.8" cy="633.0" r="4.05"/>
<circle cx="123.8" cy="630.1" r="4.05"/>
<circle cx="122.3" cy="639.7" r="4.05"/>
<circle cx="120.8" cy="642.2" r="4.05"/>
<circle cx="123.8" cy="638.8" r="4.05"/>
<circle cx="120.3" cy="631.3" r="4.05"/>
<circle cx="122.3" cy="631.3" r="4.05"/>
<circle cx="124.3" cy="631.3" r="4.05"/>
<circle cx="121.3" cy="633.4" r="4.05"/>
<circle cx="123.3" cy="633.4" r="4.05"/>
<circle cx="120.3" cy="635.5" r="4.05"/>
<circle cx="122.3" cy="635.5" r="4.05"/>
<circle cx="124.3" cy="635.5" r="4.05"/>
<circle cx="121.3" cy="637.6" r="4.05"/>
<circle cx="123.3" cy="637.6" r="4.05"/>
<circle cx="120.3" cy="639.7" r="4.05"/>
<circle cx="122.3" cy="639.7" r="4.05"/>
<circle cx="124.3" cy="639.7" r="4.05"/>
<circle cx="176.1" cy="487.9" r="4.05"/>
<circle cx="176.1" cy="516.2" r="4.05"/>
<circle cx="176.1" cy="552.5" r="4.05"/>
<circle cx="176.1" cy="579.6" r="4.05"/>
<circle cx="176.1" cy="600.1" r="4.05"/>
<circle cx="179.1" cy="610.1" r="4.05"/>
<circle cx="163.1" cy="618.8" r="4.05"/>
<circle cx="189.1" cy="618.8" r="4.05"/>
<circle cx="169.6" cy="616.7" r="4.05"/>
<circle cx="182.6" cy="616.7" r="4.05"/>
<circle cx="174.1" cy="614.7" r="4.05"/>
<circle cx="163.1" cy="626.3" r="4.05"/>
<circle cx="189.1" cy="626.8" r="4.05"/>
<circle cx="176.1" cy="632.6" r="4.05"/>
<circle cx="172.6" cy="637.6" r="4.05"/>
<circle cx="179.6" cy="637.6" r="4.05"/>
<circle cx="169.1" cy="640.9" r="4.05"/>
<circle cx="183.1" cy="640.9" r="4.05"/>
<circle cx="163.1" cy="645.5" r="4.05"/>
<circle cx="189.1" cy="643.8" r="4.05"/>
<circle cx="176.1" cy="643.4" r="4.05"/>
<circle cx="172.6" cy="651.8" r="4.05"/>
<circle cx="179.6" cy="651.8" r="4.05"/>
<circle cx="176.1" cy="648.4" r="4.05"/>
<circle cx="163.1" cy="658.0" r="4.05"/>
<circle cx="189.1" cy="658.0" r="4.05"/>
<circle cx="169.6" cy="655.9" r="4.05"/>
<circle cx="182.6" cy="656.8" r="4.05"/>
<circle cx="176.1" cy="662.6" r="4.05"/>
<circle cx="176.1" cy="655.1" r="4.05"/>
<circle cx="176.1" cy="634.3" r="4.05"/>
<circle cx="174.8" cy="636.3" r="4.05"/>
<circle cx="177.3" cy="636.3" r="4.05"/>
<circle cx="173.6" cy="638.4" r="4.05"/>
<circle cx="176.1" cy="638.4" r="4.05"/>
<circle cx="178.6" cy="638.4" r="4.05"/>
<circle cx="173.5" cy="649.3" r="4.05"/>
<circle cx="176.1" cy="649.3" r="4.05"/>
<circle cx="178.7" cy="649.3" r="4.05"/>
<circle cx="174.8" cy="652.6" r="4.05"/>
<circle cx="177.4" cy="652.6" r="4.05"/>
<circle cx="229.8" cy="598.0" r="4.05"/>
<circle cx="223.0" cy="610.1" r="4.05"/>
<circle cx="216.5" cy="615.9" r="4.05"/>
<circle cx="242.8" cy="613.0" r="4.05"/>
<circle cx="229.8" cy="619.7" r="4.05"/>
<circle cx="226.3" cy="623.0" r="4.05"/>
<circle cx="233.3" cy="624.2" r="4.05"/>
<circle cx="223.2" cy="626.3" r="4.05"/>
<circle cx="236.5" cy="627.2" r="4.05"/>
<circle cx="216.8" cy="633.8" r="4.05"/>
<circle cx="242.8" cy="635.5" r="4.05"/>
<circle cx="229.8" cy="633.8" r="4.05"/>
<circle cx="226.3" cy="638.0" r="4.05"/>
<circle cx="236.3" cy="641.8" r="4.05"/>
<circle cx="216.8" cy="648.9" r="4.05"/>
<circle cx="242.8" cy="648.0" r="4.05"/>
<circle cx="229.8" cy="654.7" r="4.05"/>
<circle cx="226.3" cy="659.3" r="4.05"/>
<circle cx="233.3" cy="659.3" r="4.05"/>
<circle cx="216.8" cy="665.9" r="4.05"/>
<circle cx="242.8" cy="665.9" r="4.05"/>
<circle cx="223.2" cy="664.3" r="4.05"/>
<circle cx="236.5" cy="664.7" r="4.05"/>
<circle cx="229.8" cy="667.6" r="4.05"/>
<circle cx="229.8" cy="662.2" r="4.05"/>
<circle cx="229.8" cy="621.3" r="4.05"/>
<circle cx="228.2" cy="625.9" r="4.05"/>
<circle cx="231.5" cy="625.9" r="4.05"/>
<circle cx="229.8" cy="656.4" r="4.05"/>
<circle cx="229.8" cy="659.7" r="4.05"/>
<circle cx="226.5" cy="663.0" r="4.05"/>
<circle cx="229.8" cy="663.0" r="4.05"/>
<circle cx="233.2" cy="663.0" r="4.05"/>
<circle cx="296.6" cy="598.8" r="4.05"/>
<circle cx="283.6" cy="604.6" r="4.05"/>
<circle cx="270.2" cy="625.9" r="4.05"/>
<circle cx="283.6" cy="625.9" r="4.05"/>
<circle cx="270.2" cy="635.5" r="4.05"/>
<circle cx="296.6" cy="635.5" r="4.05"/>
<circle cx="277.0" cy="633.4" r="4.05"/>
<circle cx="290.2" cy="633.4" r="4.05"/>
<circle cx="283.6" cy="642.6" r="4.05"/>
<circle cx="280.6" cy="644.7" r="4.05"/>
<circle cx="270.2" cy="649.7" r="4.05"/>
<circle cx="296.6" cy="649.7" r="4.05"/>
<circle cx="277.0" cy="648.4" r="4.05"/>
<circle cx="290.2" cy="648.9" r="4.05"/>
<circle cx="283.6" cy="654.7" r="4.05"/>
<circle cx="287.6" cy="658.4" r="4.05"/>
<circle cx="277.0" cy="660.1" r="4.05"/>
<circle cx="290.2" cy="661.4" r="4.05"/>
<circle cx="270.2" cy="666.8" r="4.05"/>
<circle cx="296.6" cy="666.8" r="4.05"/>
<circle cx="283.6" cy="671.8" r="4.05"/>
<circle cx="350.8" cy="617.2" r="4.05"/>
<circle cx="337.4" cy="628.0" r="4.05"/>
<circle cx="337.4" cy="648.0" r="4.05"/>
<circle cx="324.0" cy="654.3" r="4.05"/>
<circle cx="350.8" cy="658.0" r="4.05"/>
<circle cx="337.4" cy="665.9" r="4.05"/>
<circle cx="391.1" cy="627.6" r="4.05"/>
<circle cx="391.1" cy="656.4" r="4.05"/>
<circle cx="508.3" cy="545.3" r="4.05"/>
<circle cx="521.3" cy="554.9" r="4.05"/>
<circle cx="521.3" cy="595.7" r="4.05"/>
<circle cx="527.8" cy="605.3" r="4.05"/>
<circle cx="514.5" cy="608.4" r="4.05"/>
<circle cx="534.6" cy="609.4" r="4.05"/>
<circle cx="507.8" cy="614.4" r="4.05"/>
<circle cx="521.3" cy="617.0" r="4.05"/>
<circle cx="534.6" cy="619.8" r="4.05"/>
<circle cx="521.3" cy="630.9" r="4.05"/>
<circle cx="534.6" cy="642.5" r="4.05"/>
<circle cx="507.8" cy="646.3" r="4.05"/>
<circle cx="514.6" cy="641.0" r="4.05"/>
<circle cx="527.8" cy="640.3" r="4.05"/>
<circle cx="521.3" cy="638.5" r="4.05"/>
<circle cx="518.3" cy="644.8" r="4.05"/>
<circle cx="524.3" cy="644.8" r="4.05"/>
<circle cx="521.3" cy="649.9" r="4.05"/>
<circle cx="517.3" cy="651.2" r="4.05"/>
<circle cx="525.3" cy="652.4" r="4.05"/>
<circle cx="507.9" cy="658.2" r="4.05"/>
<circle cx="534.7" cy="659.5" r="4.05"/>
<circle cx="514.6" cy="657.0" r="4.05"/>
<circle cx="528.0" cy="657.0" r="4.05"/>
<circle cx="521.3" cy="660.0" r="4.05"/>
<circle cx="521.3" cy="653.7" r="4.05"/>
<circle cx="519.0" cy="638.5" r="4.05"/>
<circle cx="521.3" cy="638.5" r="4.05"/>
<circle cx="523.6" cy="638.5" r="4.05"/>
<circle cx="520.1" cy="640.8" r="4.05"/>
<circle cx="522.4" cy="640.8" r="4.05"/>
<circle cx="524.8" cy="640.8" r="4.05"/>
<circle cx="519.0" cy="643.1" r="4.05"/>
<circle cx="521.3" cy="643.1" r="4.05"/>
<circle cx="523.6" cy="643.1" r="4.05"/>
<circle cx="520.1" cy="645.3" r="4.05"/>
<circle cx="522.4" cy="645.3" r="4.05"/>
<circle cx="524.8" cy="645.3" r="4.05"/>
<circle cx="519.0" cy="647.6" r="4.05"/>
<circle cx="521.3" cy="647.6" r="4.05"/>
<circle cx="523.6" cy="647.6" r="4.05"/>
<circle cx="520.1" cy="649.9" r="4.05"/>
<circle cx="522.4" cy="649.9" r="4.05"/>
<circle cx="588.5" cy="559.7" r="4.05"/>
<circle cx="575.5" cy="568.1" r="4.05"/>
<circle cx="575.5" cy="506.8" r="4.05"/>
<circle cx="575.5" cy="608.6" r="4.05"/>
<circle cx="562.0" cy="626.6" r="4.05"/>
<circle cx="582.0" cy="625.8" r="4.05"/>
<circle cx="588.8" cy="632.4" r="4.05"/>
<circle cx="575.5" cy="632.9" r="4.05"/>
<circle cx="588.8" cy="645.1" r="4.05"/>
<circle cx="562.0" cy="649.4" r="4.05"/>
<circle cx="570.5" cy="639.8" r="4.05"/>
<circle cx="578.5" cy="639.8" r="4.05"/>
<circle cx="573.5" cy="643.6" r="4.05"/>
<circle cx="580.5" cy="643.6" r="4.05"/>
<circle cx="575.5" cy="650.4" r="4.05"/>
<circle cx="562.0" cy="660.0" r="4.05"/>
<circle cx="568.8" cy="658.2" r="4.05"/>
<circle cx="582.0" cy="659.5" r="4.05"/>
<circle cx="575.5" cy="657.0" r="4.05"/>
<circle cx="572.5" cy="658.8" r="4.05"/>
<circle cx="578.5" cy="657.5" r="4.05"/>
<circle cx="588.8" cy="665.8" r="4.05"/>
<circle cx="575.5" cy="669.1" r="4.05"/>
<circle cx="573.2" cy="636.0" r="4.05"/>
<circle cx="575.5" cy="636.0" r="4.05"/>
<circle cx="577.8" cy="636.0" r="4.05"/>
<circle cx="574.4" cy="637.9" r="4.05"/>
<circle cx="576.7" cy="637.9" r="4.05"/>
<circle cx="579.0" cy="637.9" r="4.05"/>
<circle cx="573.2" cy="639.8" r="4.05"/>
<circle cx="575.5" cy="639.8" r="4.05"/>
<circle cx="577.8" cy="639.8" r="4.05"/>
<circle cx="574.4" cy="641.8" r="4.05"/>
<circle cx="576.7" cy="641.8" r="4.05"/>
<circle cx="579.0" cy="641.8" r="4.05"/>
<circle cx="571.2" cy="656.5" r="4.05"/>
<circle cx="573.5" cy="656.5" r="4.05"/>
<circle cx="575.8" cy="656.5" r="4.05"/>
<circle cx="572.4" cy="658.5" r="4.05"/>
<circle cx="574.7" cy="658.5" r="4.05"/>
<circle cx="577.0" cy="658.5" r="4.05"/>
<circle cx="629.8" cy="491.6" r="4.05"/>
<circle cx="629.8" cy="581.8" r="4.05"/>
<circle cx="643.1" cy="593.4" r="4.05"/>
<circle cx="629.8" cy="599.0" r="4.05"/>
<circle cx="643.1" cy="622.8" r="4.05"/>
<circle cx="616.5" cy="627.1" r="4.05"/>
<circle cx="629.8" cy="627.9" r="4.05"/>
<circle cx="636.1" cy="633.4" r="4.05"/>
<circle cx="616.5" cy="640.3" r="4.05"/>
<circle cx="643.1" cy="641.0" r="4.05"/>
<circle cx="629.8" cy="642.3" r="4.05"/>
<circle cx="626.8" cy="646.1" r="4.05"/>
<circle cx="632.8" cy="647.4" r="4.05"/>
<circle cx="636.3" cy="648.6" r="4.05"/>
<circle cx="629.8" cy="652.4" r="4.05"/>
<circle cx="625.8" cy="653.7" r="4.05"/>
<circle cx="643.1" cy="654.2" r="4.05"/>
<circle cx="616.5" cy="655.5" r="4.05"/>
<circle cx="629.8" cy="658.8" r="4.05"/>
<circle cx="633.3" cy="661.3" r="4.05"/>
<circle cx="626.8" cy="662.5" r="4.05"/>
<circle cx="616.5" cy="668.6" r="4.05"/>
<circle cx="643.1" cy="668.9" r="4.05"/>
<circle cx="623.2" cy="665.8" r="4.05"/>
<circle cx="636.4" cy="666.9" r="4.05"/>
<circle cx="629.8" cy="671.7" r="4.05"/>
<circle cx="627.5" cy="643.6" r="4.05"/>
<circle cx="629.8" cy="643.6" r="4.05"/>
<circle cx="632.1" cy="643.6" r="4.05"/>
<circle cx="628.6" cy="645.7" r="4.05"/>
<circle cx="630.9" cy="645.7" r="4.05"/>
<circle cx="627.5" cy="647.9" r="4.05"/>
<circle cx="629.8" cy="647.9" r="4.05"/>
<circle cx="632.1" cy="647.9" r="4.05"/>
<circle cx="628.6" cy="650.1" r="4.05"/>
<circle cx="630.9" cy="650.1" r="4.05"/>
<circle cx="627.5" cy="652.2" r="4.05"/>
<circle cx="629.8" cy="652.2" r="4.05"/>
<circle cx="632.1" cy="652.2" r="4.05"/>
<circle cx="628.6" cy="654.4" r="4.05"/>
<circle cx="630.9" cy="654.4" r="4.05"/>
<circle cx="629.8" cy="656.6" r="4.05"/>
<circle cx="629.8" cy="658.8" r="4.05"/>
<circle cx="684.0" cy="491.1" r="4.05"/>
<circle cx="684.0" cy="563.0" r="4.05"/>
<circle cx="678.0" cy="615.7" r="4.05"/>
<circle cx="670.8" cy="619.0" r="4.05"/>
<circle cx="697.3" cy="619.0" r="4.05"/>
<circle cx="684.0" cy="626.8" r="4.05"/>
<circle cx="670.8" cy="638.5" r="4.05"/>
<circle cx="697.3" cy="640.8" r="4.05"/>
<circle cx="684.0" cy="641.0" r="4.05"/>
<circle cx="670.8" cy="647.4" r="4.05"/>
<circle cx="680.0" cy="649.9" r="4.05"/>
<circle cx="687.0" cy="651.2" r="4.05"/>
<circle cx="684.0" cy="655.0" r="4.05"/>
<circle cx="678.0" cy="654.4" r="4.05"/>
<circle cx="690.0" cy="654.4" r="4.05"/>
<circle cx="670.8" cy="655.0" r="4.05"/>
<circle cx="697.3" cy="655.5" r="4.05"/>
<circle cx="677.3" cy="662.5" r="4.05"/>
<circle cx="670.8" cy="669.4" r="4.05"/>
<circle cx="690.8" cy="667.6" r="4.05"/>
<circle cx="697.3" cy="671.4" r="4.05"/>
<circle cx="684.0" cy="675.2" r="4.05"/>
<circle cx="684.0" cy="644.8" r="4.05"/>
<circle cx="684.0" cy="647.0" r="4.05"/>
<circle cx="681.8" cy="649.2" r="4.05"/>
<circle cx="684.0" cy="649.2" r="4.05"/>
<circle cx="686.3" cy="649.2" r="4.05"/>
<circle cx="682.9" cy="651.4" r="4.05"/>
<circle cx="685.2" cy="651.4" r="4.05"/>
<circle cx="687.5" cy="651.4" r="4.05"/>
<circle cx="679.4" cy="653.5" r="4.05"/>
<circle cx="681.8" cy="653.5" r="4.05"/>
<circle cx="684.0" cy="653.5" r="4.05"/>
<circle cx="686.3" cy="653.5" r="4.05"/>
<circle cx="688.6" cy="653.5" r="4.05"/>
<circle cx="678.3" cy="655.7" r="4.05"/>
<circle cx="680.6" cy="655.7" r="4.05"/>
<circle cx="682.9" cy="655.7" r="4.05"/>
<circle cx="685.2" cy="655.7" r="4.05"/>
<circle cx="687.5" cy="655.7" r="4.05"/>
<circle cx="689.8" cy="655.7" r="4.05"/>
<circle cx="738.3" cy="546.3" r="4.05"/>
<circle cx="738.3" cy="581.5" r="4.05"/>
<circle cx="738.3" cy="605.1" r="4.05"/>
<circle cx="744.6" cy="625.8" r="4.05"/>
<circle cx="731.3" cy="631.9" r="4.05"/>
<circle cx="725.3" cy="632.2" r="4.05"/>
<circle cx="738.3" cy="632.2" r="4.05"/>
<circle cx="751.6" cy="631.9" r="4.05"/>
<circle cx="725.3" cy="636.0" r="4.05"/>
<circle cx="738.3" cy="646.1" r="4.05"/>
<circle cx="744.6" cy="646.8" r="4.05"/>
<circle cx="751.6" cy="646.1" r="4.05"/>
<circle cx="732.3" cy="652.4" r="4.05"/>
<circle cx="738.3" cy="653.7" r="4.05"/>
<circle cx="744.3" cy="652.4" r="4.05"/>
<circle cx="735.3" cy="655.0" r="4.05"/>
<circle cx="751.6" cy="654.4" r="4.05"/>
<circle cx="725.3" cy="658.5" r="4.05"/>
<circle cx="738.3" cy="660.0" r="4.05"/>
<circle cx="725.3" cy="667.6" r="4.05"/>
<circle cx="751.6" cy="669.6" r="4.05"/>
<circle cx="738.3" cy="676.0" r="4.05"/>
<circle cx="736.0" cy="650.4" r="4.05"/>
<circle cx="738.3" cy="650.4" r="4.05"/>
<circle cx="740.6" cy="650.4" r="4.05"/>
<circle cx="737.1" cy="652.4" r="4.05"/>
<circle cx="739.4" cy="652.4" r="4.05"/>
<circle cx="741.8" cy="652.4" r="4.05"/>
<circle cx="736.0" cy="654.4" r="4.05"/>
<circle cx="738.3" cy="654.4" r="4.05"/>
<circle cx="740.6" cy="654.4" r="4.05"/>
<circle cx="792.5" cy="567.9" r="4.05"/>
<circle cx="792.5" cy="616.0" r="4.05"/>
<circle cx="779.2" cy="657.0" r="4.05"/>
<circle cx="799.2" cy="656.2" r="4.05"/>
<circle cx="805.8" cy="658.5" r="4.05"/>
<circle cx="792.5" cy="668.6" r="4.05"/>
<circle cx="846.8" cy="590.9" r="4.05"/>
<circle cx="846.8" cy="654.4" r="4.05"/>
</g>
<g fill="none" stroke="#000">
<path d="M46.3 299.3H79.7" stroke-width="3.3"/>
<path d="M54.5 295.8H71.5" stroke-width="2.5"/>
<path d="M54.5 302.8H71.5" stroke-width="2.5"/>
<path d="M63.0 295.8V302.8" stroke-width="2.3"/>
<path d="M93.4 321.4H126.8" stroke-width="3.3"/>
<path d="M101.6 318.2H118.6" stroke-width="2.5"/>
<path d="M101.6 324.5H118.6" stroke-width="2.5"/>
<path d="M110.1 318.2V324.5" stroke-width="2.3"/>
<path d="M140.5 333.3H173.9" stroke-width="3.3"/>
<path d="M148.7 330.5H165.7" stroke-width="2.5"/>
<path d="M148.7 336.2H165.7" stroke-width="2.5"/>
<path d="M157.2 330.5V336.2" stroke-width="2.3"/>
<path d="M187.6 342.8H221.0" stroke-width="3.3"/>
<path d="M195.8 340.3H212.8" stroke-width="2.5"/>
<path d="M195.8 345.3H212.8" stroke-width="2.5"/>
<path d="M204.3 340.3V345.3" stroke-width="2.3"/>
<path d="M234.7 350.3H268.1" stroke-width="3.3"/>
<path d="M242.9 348.1H259.9" stroke-width="2.5"/>
<path d="M242.9 352.5H259.9" stroke-width="2.5"/>
<path d="M251.4 348.1V352.5" stroke-width="2.3"/>
<path d="M281.8 349.4H315.2" stroke-width="3.3"/>
<path d="M290.0 346.9H307.0" stroke-width="2.5"/>
<path d="M290.0 351.9H307.0" stroke-width="2.5"/>
<path d="M298.5 346.9V351.9" stroke-width="2.3"/>
<path d="M328.9 352.2H362.3" stroke-width="3.3"/>
<path d="M337.1 347.8H354.1" stroke-width="2.5"/>
<path d="M337.1 356.6H354.1" stroke-width="2.5"/>
<path d="M345.6 347.8V356.6" stroke-width="2.3"/>
<path d="M376.0 357.3H409.4" stroke-width="3.3"/>
<path d="M384.2 351.0H401.2" stroke-width="2.5"/>
<path d="M384.2 363.6H401.2" stroke-width="2.5"/>
<path d="M392.7 351.0V363.6" stroke-width="2.3"/>
<path d="M501.7 294.6H534.9" stroke-width="3.3"/>
<path d="M509.8 290.8H526.8" stroke-width="2.5"/>
<path d="M509.8 298.4H526.8" stroke-width="2.5"/>
<path d="M518.3 290.8V298.4" stroke-width="2.3"/>
<path d="M549.1 317.1H582.3" stroke-width="3.3"/>
<path d="M557.2 313.2H574.2" stroke-width="2.5"/>
<path d="M557.2 320.9H574.2" stroke-width="2.5"/>
<path d="M565.7 313.2V320.9" stroke-width="2.3"/>
<path d="M596.5 324.0H629.7" stroke-width="3.3"/>
<path d="M604.6 320.2H621.6" stroke-width="2.5"/>
<path d="M604.6 327.8H621.6" stroke-width="2.5"/>
<path d="M613.1 320.2V327.8" stroke-width="2.3"/>
<path d="M643.9 332.9H677.1" stroke-width="3.3"/>
<path d="M652.0 329.7H669.0" stroke-width="2.5"/>
<path d="M652.0 336.0H669.0" stroke-width="2.5"/>
<path d="M660.5 329.7V336.0" stroke-width="2.3"/>
<path d="M691.3 332.9H724.5" stroke-width="3.3"/>
<path d="M699.4 329.7H716.4" stroke-width="2.5"/>
<path d="M699.4 336.0H716.4" stroke-width="2.5"/>
<path d="M707.9 329.7V336.0" stroke-width="2.3"/>
<path d="M738.7 332.9H771.9" stroke-width="3.3"/>
<path d="M746.8 329.0H763.8" stroke-width="2.5"/>
<path d="M746.8 336.7H763.8" stroke-width="2.5"/>
<path d="M755.3 329.0V336.7" stroke-width="2.3"/>
<path d="M786.1 345.2H819.3" stroke-width="3.3"/>
<path d="M794.2 336.6H811.2" stroke-width="2.5"/>
<path d="M794.2 353.7H811.2" stroke-width="2.5"/>
<path d="M802.7 336.6V353.7" stroke-width="2.3"/>
<path d="M833.5 339.2H866.7" stroke-width="3.3"/>
<path d="M841.6 321.1H858.6" stroke-width="2.5"/>
<path d="M841.6 357.2H858.6" stroke-width="2.5"/>
<path d="M850.1 321.1V357.2" stroke-width="2.3"/>
<path d="M49.8 614.2H88.2" stroke-width="2.5"/>
<path d="M103.5 624.6H141.9" stroke-width="2.5"/>
<path d="M157.3 623.0H195.7" stroke-width="2.5"/>
<path d="M211.1 641.0H249.4" stroke-width="2.5"/>
<path d="M264.8 643.5H303.2" stroke-width="2.5"/>
<path d="M318.6 644.3H356.9" stroke-width="2.5"/>
<path d="M372.3 641.8H410.7" stroke-width="2.5"/>
<path d="M502.2 632.9H540.4" stroke-width="2.5"/>
<path d="M556.4 635.9H594.6" stroke-width="2.5"/>
<path d="M610.7 640.0H648.9" stroke-width="2.5"/>
<path d="M664.9 641.2H703.1" stroke-width="2.5"/>
<path d="M719.2 639.4H757.4" stroke-width="2.5"/>
<path d="M773.4 637.4H811.6" stroke-width="2.5"/>
<path d="M827.7 622.7H865.9" stroke-width="2.5"/>
</g>
<g font-family='"Liberation Sans", Arial, sans-serif' fill="#000">
<g font-size="11.6" font-weight="bold">
<text x="3.2" y="11.4">A</text>
<text x="441.6" y="13.2">B</text>
<text x="2.4" y="431.6">C</text>
<text x="440.4" y="435.3">D</text>
</g>
<g font-size="10.5" text-anchor="end">
<text x="36.4" y="386.2">0</text>
<text x="36.4" y="323.2">10</text>
<text x="36.4" y="260.2">20</text>
<text x="36.4" y="197.2">30</text>
<text x="36.4" y="134.2">40</text>
<text x="489.4" y="384.3">0</text>
<text x="489.4" y="320.9">2</text>
<text x="489.4" y="257.5">4</text>
<text x="489.4" y="194.0">6</text>
<text x="489.4" y="130.6">8</text>
<text x="37.4" y="693.6" font-size="11">0</text>
<text x="37.4" y="609.8" font-size="11">20</text>
<text x="37.4" y="526.0" font-size="11">40</text>
<text x="37.4" y="442.2" font-size="11">60</text>
<text x="490.6" y="693.1">0</text>
<text x="490.6" y="642.6">2</text>
<text x="490.6" y="592.1">4</text>
<text x="490.6" y="541.6">6</text>
<text x="490.6" y="491.1">8</text>
<text x="490.6" y="440.6">10</text>
</g>
<g font-size="11.6" font-weight="bold" text-anchor="middle">
<text x="62.7" y="402">Before</text>
<text x="109.8" y="402">1mo</text>
<text x="156.9" y="402">3mo</text>
<text x="204.0" y="402">6mo</text>
<text x="251.1" y="402">12mo</text>
<text x="298.2" y="402">24mo</text>
<text x="345.3" y="402">36mo</text>
<text x="392.4" y="402">48mo</text>
<text x="68.5" y="703.6">Before</text>
<text x="122.2" y="703.6">3mo</text>
<text x="176.0" y="703.6">6mo</text>
<text x="229.8" y="703.6">12mo</text>
<text x="283.5" y="703.6">24mo</text>
<text x="337.2" y="703.6">36mo</text>
<text x="391.0" y="703.6">48mo</text>
<text x="521.3" y="703.8">Before</text>
<text x="575.5" y="703.8">3mo</text>
<text x="629.8" y="703.8">6mo</text>
<text x="684.0" y="703.8">12mo</text>
<text x="738.3" y="703.8">24mo</text>
<text x="792.5" y="703.8">36mo</text>
<text x="846.8" y="703.8">48mo</text>
</g>
<g font-size="11.2" text-anchor="middle">
<text x="518.3" y="397.8">Before</text>
<text x="565.7" y="397.8">1mo</text>
<text x="613.1" y="397.8">3mo</text>
<text x="660.5" y="397.8">6mo</text>
<text x="707.9" y="397.8">12mo</text>
<text x="755.3" y="397.8">24mo</text>
<text x="802.7" y="397.8">36mo</text>
<text x="850.1" y="397.8">48mo</text>
</g>
<g font-weight="bold" text-anchor="middle">
<text font-size="15.2" transform="translate(15.1 255.6) rotate(-90)">SLEDAI score</text>
<text font-size="14.4" transform="translate(463.7 250.3) rotate(-90)">Proteinuria (g/24 h)</text>
<text font-size="14.5" transform="translate(12.2 559.3) rotate(-90)">Serum urea nitrogen (mmol/l)</text>
<text font-size="15.45" transform="translate(467.1 562.6) rotate(-90)">Serum creatinine (mg/dl)</text>
</g>
<g font-size="19" font-weight="bold" text-anchor="middle" letter-spacing="2.1">
<text x="339.55" y="19.9">**</text>
<text x="296.55" y="42.9">**</text>
<text x="253.55" y="60.9">**</text>
<text x="203.55" y="80.9">**</text>
<text x="169.55" y="101.4">**</text>
<text x="122.05" y="121.9">**</text>
<text x="98.55" y="144.4">**</text>
<text x="727.55" y="72.2">**</text>
<text x="684.05" y="91.9">**</text>
<text x="634.55" y="111.2">**</text>
<text x="600.05" y="131.4">**</text>
<text x="566.55" y="158.4">**</text>
<text x="547.55" y="184.4">**</text>
<text x="212.05" y="438.9">**</text>
<text x="158.05" y="472.4">**</text>
<text x="659.05" y="428.4">*</text>
<text x="609.05" y="456.9">*</text>
</g>
</g>
</svg>
</body></html>
